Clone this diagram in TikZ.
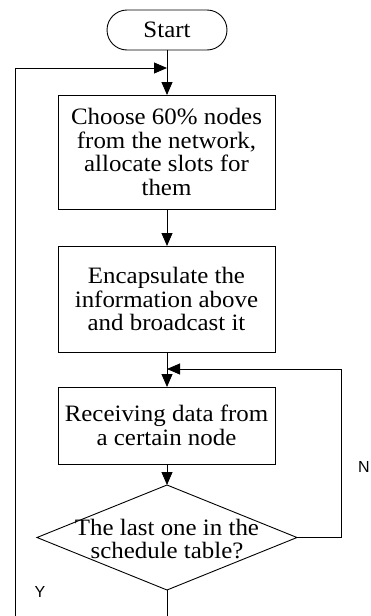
\documentclass[tikz,border=0pt]{standalone}
\usepackage{fontspec}
\setmainfont[FakeStretch=1.06]{Liberation Serif}
\newfontfamily\tagfont{Liberation Sans}
\usetikzlibrary{shapes.geometric,arrows.meta}
\begin{document}
\begin{tikzpicture}[x=1pt,y=-1pt,
  every node/.style={inner sep=0pt,outer sep=0pt},
  flowtext/.style={font=\fontsize{23.5}{23.5}\selectfont},
  proc/.style={draw,line width=0.9pt,minimum width=217pt,align=center,flowtext},
  term/.style={draw,line width=0.9pt,rounded corners=20pt,minimum width=120pt,minimum height=40pt,flowtext},
  decide/.style={draw,diamond,line width=0.9pt,minimum width=260pt,minimum height=105pt},
  tag/.style={font=\tagfont\fontsize{16}{16}\selectfont},
  link/.style={line width=0.9pt},
  arr/.style={link,-{Triangle[width=11pt,length=13pt]}}]
\clip (0,0) rectangle (370,616);

% flow steps
\node[term] (start) at (167,30) {Start};
\node[proc,minimum height=114pt] (b1) at (166.5,152)
  {Choose 60\% nodes\\from the network,\\allocate slots for\\them};
\node[proc,minimum height=106pt] (b2) at (166.5,299)
  {Encapsulate the\\information above\\and broadcast it};
\node[proc,minimum height=77pt] (b3) at (166.5,425.5)
  {Receiving data from\\a certain node};
\node[decide] (d) at (167,537.5) {};
\node[flowtext,align=center] (dtxt) at (167,539) {The last one in the\\schedule table?};

% loop corner points
\coordinate (jtop) at (167,68);
\coordinate (nr) at (341,369);
\coordinate (ybot) at (167,640);
\coordinate (yleft) at (15,640);

% main flow
\draw[link] (start.south) -- (jtop);
\draw[arr] (jtop) -- (jtop |- b1.north);
\draw[arr] (b1.south -| jtop) -- (b2.north -| jtop);
\draw[arr] (b2.south -| jtop) -- (b3.north -| jtop);
\draw[arr] (b3.south -| jtop) -- (d.north);

% "N" branch back to receiving
\draw[arr] (d.east) -| (nr) -- (nr -| jtop);

% "Y" branch back to the top
\draw[arr] (d.south) -- (ybot) -- (yleft) -- (yleft |- jtop) -- (jtop);

% branch labels
\node[tag] (nlab) at (364,467) {N};
\node[tag] (ylab) at (40,592) {Y};
\end{tikzpicture}
\end{document}
